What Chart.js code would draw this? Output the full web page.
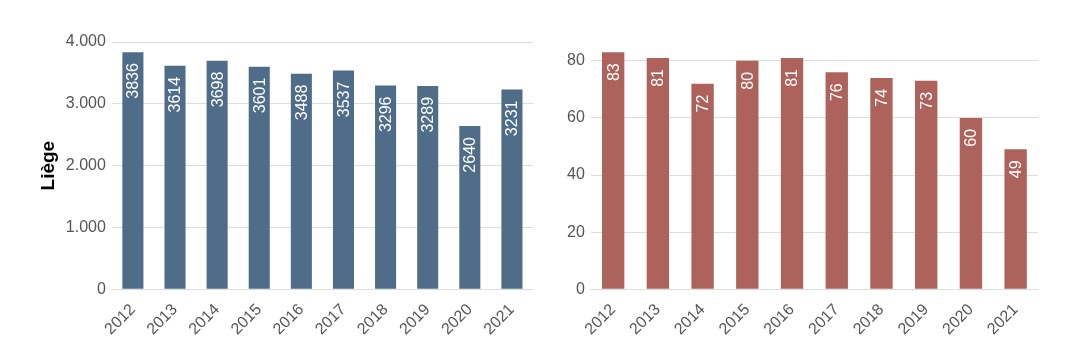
<!DOCTYPE html>
<html>
<head>
<meta charset="utf-8">
<script src="https://cdn.jsdelivr.net/npm/chart.js@4"></script>
<style>
  html, body { margin: 0; padding: 0; background: #fff; }
  .wrap { display: flex; width: 1086px; height: 354px; }
  .box { position: relative; width: 543px; height: 354px; }
</style>
</head>
<body>
<div class="wrap">
  <div class="box"><canvas id="left"></canvas></div>
  <div class="box"><canvas id="right"></canvas></div>
</div>
<script>
const years = ["2012", "2013", "2014", "2015", "2016", "2017", "2018", "2019", "2020", "2021"];
const liegeValues = [3836, 3614, 3698, 3601, 3488, 3537, 3296, 3289, 2640, 3231];
const secondValues = [83, 81, 72, 80, 81, 76, 74, 73, 60, 49];

const FONT = "'Liberation Sans', Arial, sans-serif";

// white value labels, reading upwards, just below the top of each bar
const barLabels = {
  id: "barLabels",
  afterDatasetsDraw(chart) {
    const ctx = chart.ctx;
    const meta = chart.getDatasetMeta(0);
    const data = chart.data.datasets[0].data;
    ctx.save();
    ctx.fillStyle = "#ffffff";
    ctx.font = "16px " + FONT;
    ctx.textAlign = "right";
    ctx.textBaseline = "middle";
    meta.data.forEach((bar, i) => {
      ctx.save();
      ctx.translate(bar.x + 1, bar.y + 11);
      ctx.rotate(-Math.PI / 2);
      ctx.fillText(String(data[i]), 0, 0);
      ctx.restore();
    });
    ctx.restore();
  }
};

function makeChart(id, values, color, max, step, title, padding) {
  return new Chart(document.getElementById(id), {
    type: "bar",
    data: {
      labels: years,
      datasets: [{
        data: values,
        backgroundColor: color,
        barPercentage: 0.5,
        categoryPercentage: 1
      }]
    },
    options: {
      responsive: true,
      maintainAspectRatio: false,
      animation: false,
      layout: { padding: padding },
      plugins: {
        legend: { display: false },
        tooltip: { enabled: false }
      },
      scales: {
        x: {
          grid: { display: false },
          border: { color: "#dddddd" },
          ticks: {
            color: "#555555",
            font: { family: FONT, size: 16 },
            minRotation: 45,
            maxRotation: 45
          }
        },
        y: {
          min: 0,
          max: max,
          afterBuildTicks(scale) {
            scale.ticks = scale.ticks.filter(t => t.value % step === 0);
          },
          grid: { color: "#dddddd", drawTicks: false },
          border: { display: false },
          title: {
            display: !!title,
            text: title,
            color: "#000000",
            padding: { top: 7, bottom: 0 },
            font: { family: FONT, size: 19, weight: "bold" }
          },
          ticks: {
            stepSize: step,
            padding: 6,
            color: "#555555",
            font: { family: FONT, size: 16 },
            callback: v => v.toLocaleString("de-DE")
          }
        }
      }
    },
    plugins: [barLabels]
  });
}

makeChart("left", liegeValues, "#4f6d88", 4000, 1000, "Liège",
  { top: 42, left: 30, right: 10, bottom: 12 });
makeChart("right", secondValues, "#ad635b", 86.6, 20, "",
  { top: 42, left: 18, right: 48, bottom: 12 });
</script>
</body>
</html>
